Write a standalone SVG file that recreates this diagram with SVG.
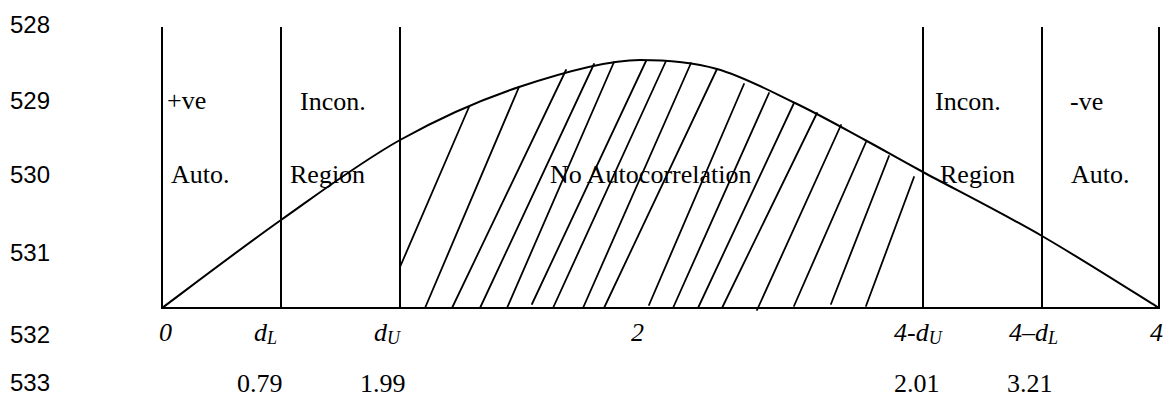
<svg xmlns="http://www.w3.org/2000/svg" width="1165" height="398" viewBox="0 0 1165 398">
<style>
.ln{font-family:"Liberation Sans",Arial,sans-serif;font-size:24px;fill:#000}
.t{font-family:"Liberation Serif","Times New Roman",serif;font-size:26px;fill:#000}
.i{font-family:"Liberation Serif","Times New Roman",serif;font-size:26px;font-style:italic;fill:#000}
.sub{font-size:18px}
.ax{stroke:#000;stroke-width:2;fill:none}
.h{stroke:#000;stroke-width:1.8;fill:none;stroke-linecap:round}
</style>
<rect width="1165" height="398" fill="#fff"/>
<g id="line-numbers">
<text class="ln" x="10" y="33">528</text>
<text class="ln" x="10" y="109">529</text>
<text class="ln" x="10" y="183">530</text>
<text class="ln" x="10" y="261">531</text>
<text class="ln" x="10" y="343">532</text>
<text class="ln" x="10" y="391">533</text>
</g>
<g id="hatching">
<path class="h" d="M400,267 L469,107 M425,308 L519,87 M452,308 L566,70 M480,308 L594,64 M507,308 L614,62 M532,304 L646,61 M553,308 L666,61 M583,308 L691,63 M604,308 L717,69 M649,305 L744,84 M673,308 L769,93 M698,308 L794,103 M722,308 L817,113 M757,310 L841,125 M794,306 L866,142 M831,304 L889,156 M866,306 L914,177"/>
</g>
<g id="axes">
<line class="ax" x1="162" y1="27" x2="162" y2="308"/>
<line class="ax" x1="281" y1="27" x2="281" y2="308"/>
<line class="ax" x1="400" y1="27" x2="400" y2="308"/>
<line class="ax" x1="923" y1="27" x2="923" y2="308"/>
<line class="ax" x1="1042" y1="27" x2="1042" y2="308"/>
<line class="ax" x1="1159" y1="27" x2="1159" y2="308"/>
<line class="ax" x1="161" y1="308" x2="1160" y2="308"/>
</g>
<g id="curve">
<path class="ax" d="M162,308 C181.8,293.3 241.3,248 281,220 C320.7,192 360.3,162.2 400,140 C439.7,117.8 479,100.3 519,87 C559,73.7 607,60 640,60 C665.7,60 691.2,61.8 717,69 C742.8,76.2 770.3,91.2 795,103 C819.7,114.8 843.7,128.5 865,140 C886.3,151.5 893.5,156 923,172 C952.5,188 1002.7,213.3 1042,236 C1081.3,258.7 1139.5,296 1159,308"/>
</g>
<g id="region-labels">
<text class="t" x="167" y="109">+ve</text>
<text class="t" x="171" y="183">Auto.</text>
<text class="t" x="300" y="110">Incon.</text>
<text class="t" x="290" y="183">Region</text>
<text class="t" x="550" y="183">No Autocorrelation</text>
<text class="t" x="935" y="110">Incon.</text>
<text class="t" x="940" y="183">Region</text>
<text class="t" x="1070" y="110">-ve</text>
<text class="t" x="1071" y="183">Auto.</text>
</g>
<g id="axis-labels">
<text class="i" x="159" y="341">0</text>
<text class="i" x="254" y="341">d<tspan class="sub" dy="3">L</tspan></text>
<text class="i" x="374" y="341">d<tspan class="sub" dy="3">U</tspan></text>
<text class="i" x="631" y="341">2</text>
<text class="i" x="894" y="341">4-d<tspan class="sub" dy="3">U</tspan></text>
<text class="i" x="1009" y="341">4–d<tspan class="sub" dy="3">L</tspan></text>
<text class="i" x="1150" y="341">4</text>
</g>
<g id="critical-values">
<text class="t" x="237" y="392">0.79</text>
<text class="t" x="360" y="392">1.99</text>
<text class="t" x="894" y="392">2.01</text>
<text class="t" x="1007" y="392">3.21</text>
</g>
</svg>
